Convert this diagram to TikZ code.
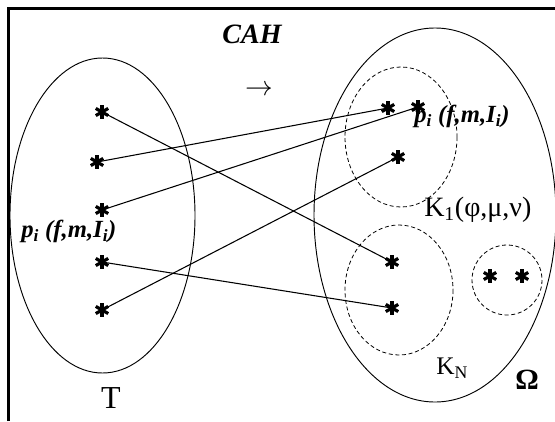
\documentclass[tikz,border=0pt]{standalone}
\usepackage{fontspec}
\setmainfont{Liberation Serif}

\begin{document}
\begin{tikzpicture}[x=0.75pt, y=-0.75pt, every node/.style={inner sep=0pt},
	pt/.style={circle, minimum size=11pt, path picture={\foreach \a/\b in {90/270,30/210,150/330} \draw[line width=2.4pt] (path picture bounding box.\a) -- (path picture bounding box.\b);}},
	lab/.style={font=\fontsize{18.5}{20}\selectfont\bfseries\itshape},
	link/.style={line width=0.8pt},
	clus/.style={line width=0.6pt, dash pattern=on 3pt off 2pt}]
	\useasboundingbox (0,0) rectangle (555,421);
	\draw[line width=2.2pt] (8.5,421) -- (8.5,8.5) -- (555,8.5);
	% the two sets
	\draw[line width=0.7pt] (102.5,215.5) ellipse [x radius=92.5, y radius=157.5];
	\draw[line width=0.7pt] (435,215) ellipse [x radius=121, y radius=187];
	% classes
	\draw[clus] (401,137) ellipse [x radius=56, y radius=70];
	\draw[clus] (399,290) ellipse [x radius=54, y radius=65];
	\draw[clus] (507,280) circle [radius=35];
	% points
	\node[pt] (l1) at (102,112) {};
	\node[pt] (l2) at (97,162) {};
	\node[pt] (l3) at (102,210) {};
	\node[pt] (l4) at (102,262) {};
	\node[pt] (l5) at (102,310) {};
	\node[pt] (r1) at (388,108) {};
	\node[pt] (r2) at (418,107) {};
	\node[pt] (r3) at (398,157) {};
	\node[pt] (r4) at (392,262) {};
	\node[pt] (r5) at (392,308) {};
	\node[pt] (r6) at (490,276) {};
	\node[pt] (r7) at (522,276) {};
	\draw[link] (l1.center) -- (r4.center);
	\draw[link] (l2.center) -- (r1.center);
	\draw[link] (l3.center) -- (r2.center);
	\draw[link] (l4.center) -- (r5.center);
	\draw[link] (l5.center) -- (r3.center);
	% texts
	\node[font=\fontsize{21}{24}\selectfont\bfseries\itshape] (cah) at (252,34) {CAH};
	\node[font=\fontsize{20}{24}\selectfont] (arr) at (259,90) {$\rightarrow$};
	\node[lab, anchor=west] (pl) at (21,231) {p\textsubscript{i} (f,m,I\textsubscript{i})};
	\node[lab, anchor=west] (pr) at (414,116) {p\textsubscript{i} (f,m,I\textsubscript{i})};
	\node[font=\fontsize{21}{24}\selectfont, anchor=west] (k1) at (424,210) {K\textsubscript{1}(φ,μ,ν)};
	\node[font=\fontsize{19}{22}\selectfont, anchor=west] (kn) at (436,368) {K\textsubscript{N}};
	\node[font=\fontsize{22}{24}\selectfont\bfseries] (om) at (527,380) {Ω};
	\node[font=\fontsize{24}{26}\selectfont] (t) at (111,398) {T};
\end{tikzpicture}
\end{document}
